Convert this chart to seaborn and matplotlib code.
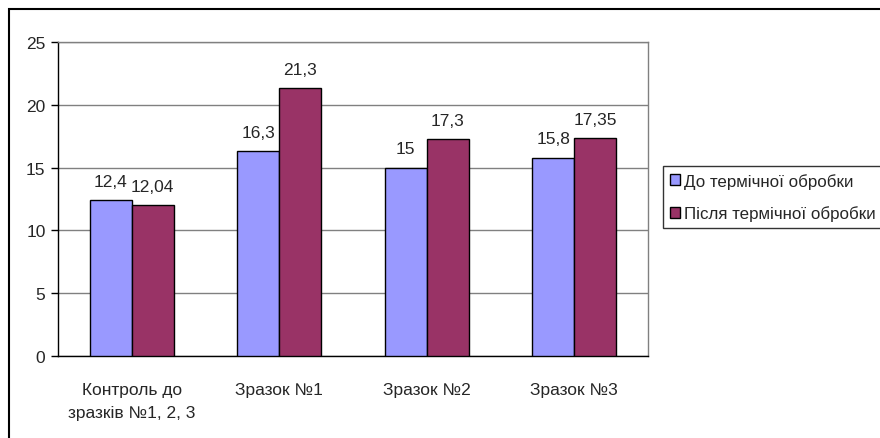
import matplotlib
matplotlib.use("Agg")
import matplotlib.pyplot as plt
from matplotlib.patches import Rectangle
import seaborn as sns
import pandas as pd

categories = ["Контроль до\nзразків №1, 2, 3", "Зразок №1", "Зразок №2", "Зразок №3"]
series_names = ["До термічної обробки", "Після термічної обробки"]
before_values = [12.4, 16.3, 15.0, 15.8]
after_values = [12.04, 21.3, 17.3, 17.35]
before_labels = ["12,4", "16,3", "15", "15,8"]
after_labels = ["12,04", "21,3", "17,3", "17,35"]
y_ticks = [0, 5, 10, 15, 20, 25]

sns.set_theme(style="white")
plt.rcParams["font.family"] = ["Liberation Sans", "DejaVu Sans"]
plt.rcParams["font.size"] = 12

df = pd.DataFrame({
    "category": categories * 2,
    "series": [series_names[0]] * 4 + [series_names[1]] * 4,
    "value": before_values + after_values,
})

fig = plt.figure(figsize=(8.8, 4.39), dpi=100)
ax = fig.add_axes([58 / 880, 1 - 357 / 439, (648 - 58) / 880, (357 - 43) / 439])

palette = {series_names[0]: "#9999FF", series_names[1]: "#993366"}
sns.barplot(data=df, x="category", y="value", hue="series", palette=palette,
            width=0.57, gap=0, edgecolor="black", linewidth=1, saturation=1,
            errorbar=None, ax=ax, zorder=3)

ax.set_ylim(0, 25)
ax.set_xlim(-0.5, 3.5)
ax.set_yticks(y_ticks)
ax.set_yticklabels([str(t) for t in y_ticks], fontsize=12.5)
ax.yaxis.grid(True, color="#808080", linewidth=1)
ax.set_axisbelow(True)
ax.set_xlabel("")
ax.set_ylabel("")

ax.set_xticks(range(len(categories)))
ax.set_xticklabels(categories, fontsize=12.5, linespacing=1.65)
ax.tick_params(axis="x", which="major", length=0, pad=19)
ax.set_xticks([i - 0.5 for i in range(len(categories) + 1)], minor=True)
ax.tick_params(axis="x", which="minor", length=5, width=1, color="black", direction="out")
ax.tick_params(axis="y", length=5, width=1, color="black", direction="out", left=True, pad=4)

for side in ["top", "right"]:
    ax.spines[side].set_color("#808080")
    ax.spines[side].set_linewidth(1)
for side in ["left", "bottom"]:
    ax.spines[side].set_color("black")
    ax.spines[side].set_linewidth(1)

# value labels above each bar
for container, labels in zip(ax.containers, [before_labels, after_labels]):
    ax.bar_label(container, labels=labels, padding=8, fontsize=12.5)

ax.get_legend().remove()
handles = [Rectangle((0, 0), 1, 1, facecolor=palette[n], edgecolor="black", linewidth=1)
           for n in series_names]
leg = fig.legend(handles, series_names, loc="upper left",
                 bbox_to_anchor=(663 / 880, 1 - 167 / 439), frameon=True,
                 fancybox=False, shadow=False, fontsize=12.2,
                 handlelength=0.6, handleheight=0.6, handletextpad=0.25,
                 borderpad=0.4, labelspacing=1.0, borderaxespad=0)
leg.get_frame().set_edgecolor("black")
leg.get_frame().set_linewidth(1)

# chart area border
fig.patches.append(Rectangle((9 / 880, -0.02), 1.0, 1 - 10 / 439 + 0.02,
                             transform=fig.transFigure, fill=False,
                             edgecolor="black", linewidth=1.5, clip_on=False))

fig.savefig("out.png", dpi=100)
